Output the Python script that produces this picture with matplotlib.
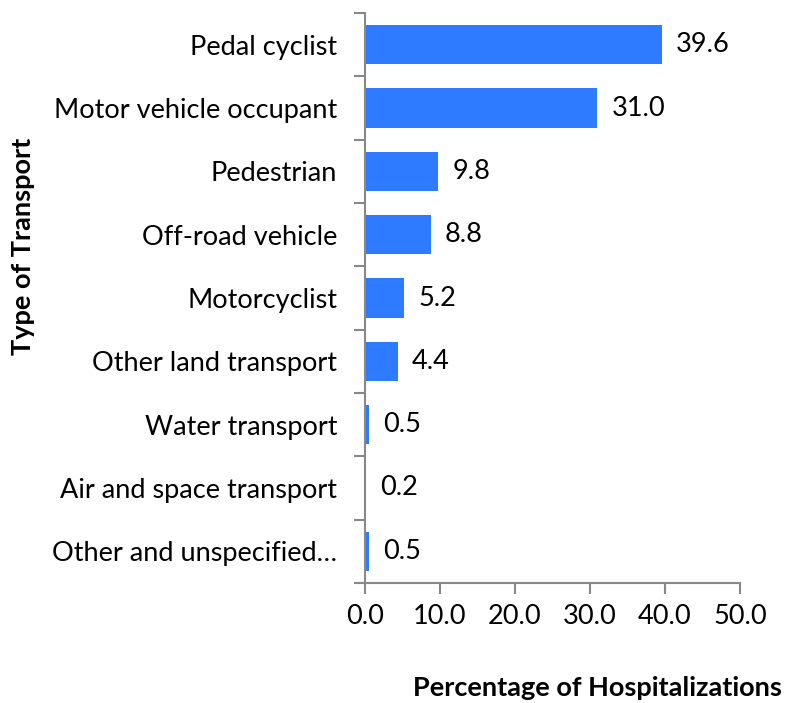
import matplotlib.pyplot as plt
import numpy as np

categories = ['Pedal cyclist', 'Motor vehicle occupant', 'Pedestrian', 'Off-road vehicle',
              'Motorcyclist', 'Other land transport', 'Water transport',
              'Air and space transport', 'Other and unspecified…']
values = [39.6, 31.0, 9.8, 8.8, 5.2, 4.4, 0.5, 0.2, 0.5]
xticks = [0, 10, 20, 30, 40, 50]

plt.rcParams['font.family'] = ['Lato', 'DejaVu Sans']
fs = 19.5

fig = plt.figure(figsize=(7.88, 7.03), dpi=100)
ax = fig.add_axes([0.463, 0.1707, 0.476, 0.8108])

y = np.arange(len(categories))
ax.barh(y, values, height=0.62, color='#2E7BFF')
for yi, v in zip(y, values):
    ax.text(v + 1.9, yi, f'{v:.1f}', va='center', ha='left', fontsize=fs, color='black')

ax.set_ylim(len(categories) - 0.5, -0.5)
ax.set_xlim(0, 50)
ax.set_yticks(y)
ax.set_yticklabels(categories, fontsize=fs)
ax.tick_params(axis='y', which='major', length=0, pad=20)
ax.set_yticks(np.arange(len(categories) + 1) - 0.5, minor=True)
ax.tick_params(axis='y', which='minor', length=8, width=1.5, color='#888888', direction='out')
ax.set_xticks(xticks)
ax.set_xticklabels([f'{t:.1f}' for t in xticks], fontsize=fs)
ax.tick_params(axis='x', length=8, width=1.5, color='#888888', pad=7)

for s in ['top', 'right']:
    ax.spines[s].set_visible(False)
for s in ['left', 'bottom']:
    ax.spines[s].set_color('#888888')
    ax.spines[s].set_linewidth(1.5)

fig.text(0.029, 0.649, 'Type of Transport', rotation=90, fontsize=fs, fontweight='bold',
         ha='center', va='center')
fig.text(0.758, 0.021, 'Percentage of Hospitalizations', fontsize=fs, fontweight='bold',
         ha='center', va='center')

fig.savefig('out.png', dpi=100)
